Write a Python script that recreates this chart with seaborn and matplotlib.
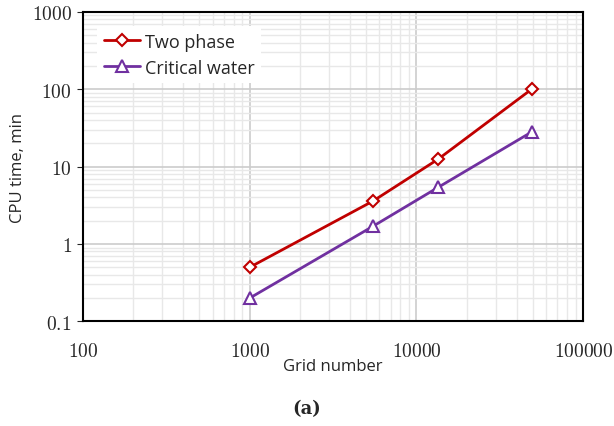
import matplotlib
matplotlib.use("Agg")
from matplotlib import pyplot as plt
from matplotlib.ticker import LogLocator, FixedLocator, NullFormatter
import pandas as pd
import seaborn as sns

grid_number = [1000, 5500, 13500, 49000]
two_phase = [0.5, 3.6, 12.5, 100]
critical_water = [0.2, 1.7, 5.4, 28]

df_two = pd.DataFrame({"Grid number": grid_number, "CPU time": two_phase})
df_crit = pd.DataFrame({"Grid number": grid_number, "CPU time": critical_water})

sns.set_style("white")
plt.rcParams["mathtext.fontset"] = "cm"

f, ax = plt.subplots(figsize=(6.14, 4.27), dpi=100)
f.subplots_adjust(left=0.135, right=0.95, top=0.97, bottom=0.245)

sns.lineplot(data=df_two, x="Grid number", y="CPU time", color="#c00000",
             marker="D", markersize=6.5, markerfacecolor="white",
             markeredgecolor="#c00000", markeredgewidth=1.5,
             linewidth=2, label="Two phase", ax=ax)
sns.lineplot(data=df_crit, x="Grid number", y="CPU time", color="#7030a0",
             marker="^", markersize=8, markerfacecolor="white",
             markeredgecolor="#7030a0", markeredgewidth=1.5,
             linewidth=2, label="Critical water", ax=ax)

ax.set_xscale("log")
ax.set_yscale("log")
ax.set_xlim(100, 100000)
ax.set_ylim(0.1, 1000)

ax.xaxis.set_major_locator(FixedLocator([100, 1000, 10000, 100000]))
ax.yaxis.set_major_locator(FixedLocator([0.1, 1, 10, 100, 1000]))
ax.xaxis.set_minor_locator(LogLocator(base=10, subs=[2, 3, 4, 5, 6, 7, 8, 9]))
ax.yaxis.set_minor_locator(LogLocator(base=10, subs=[2, 3, 4, 5, 6, 7, 8, 9]))
ax.xaxis.set_minor_formatter(NullFormatter())
ax.yaxis.set_minor_formatter(NullFormatter())
ax.set_xticklabels([r"$\mathrm{100}$", r"$\mathrm{1000}$", r"$\mathrm{10000}$", r"$\mathrm{100000}$"])
ax.set_yticklabels([r"$\mathrm{0.1}$", r"$\mathrm{1}$", r"$\mathrm{10}$", r"$\mathrm{100}$", r"$\mathrm{1000}$"])
ax.tick_params(axis="both", which="major", labelsize=14, length=0, pad=14)
ax.tick_params(axis="y", which="major", length=4, direction="out", left=True, pad=4)
ax.tick_params(which="minor", length=0)

ax.grid(True, which="major", color="#cccccc", linewidth=1.2)
ax.grid(True, which="minor", color="#e8e8e8", linewidth=1.0)
for s in ax.spines.values():
    s.set_color("black")
    s.set_linewidth(1.5)

ax.set_xlabel("Grid number", fontsize=12, family="Open Sans", labelpad=-1)
ax.set_ylabel("CPU time, min", fontsize=12, family="Open Sans", labelpad=4)

leg = ax.legend(loc="upper left", frameon=True, fancybox=False, framealpha=1,
                facecolor="white", edgecolor="none", fontsize=13,
                handlelength=2.0, borderaxespad=0.8, borderpad=0.35,
                labelspacing=0.45, handletextpad=0.3)
for t in leg.get_texts():
    t.set_family("Open Sans")

f.text(0.5, 0.03, "(a)", ha="center", fontsize=13, family="DejaVu Serif",
       weight="bold")

plt.savefig("out.png", dpi=100)
